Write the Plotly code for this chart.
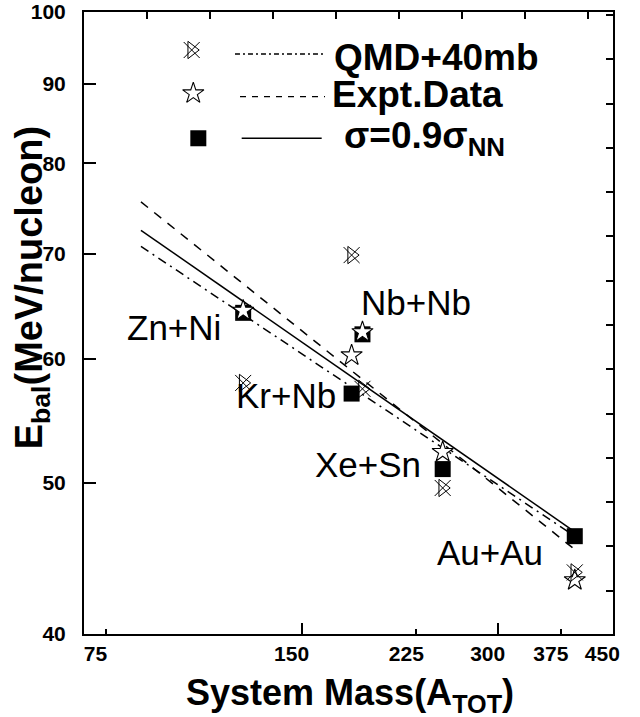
import numpy as np
import plotly.graph_objects as go

# ---------------- data ----------------
systems = ["Zn+Ni", "Kr+Nb", "Nb+Nb", "Xe+Sn", "Au+Au"]
a_tot = [122, 179, 186, 247, 394]
e_sigma09 = [64.2, 57.0, 62.2, 51.0, 46.2]      # sigma = 0.9 sigma_NN (filled squares)
e_expt = [64.4, 60.3, 62.4, 52.3, 43.3]         # experimental data (open stars)
e_qmd = [57.9, 69.9, 57.4, 49.6, 43.8]          # QMD + 40 mb (crossed symbols)

fit_a = [85, 394]
fit_qmd = [70.8, 46.2]
fit_expt = [75.6, 45.3]
fit_sigma09 = [72.5, 46.5]

x_ticks = [75, 150, 225, 300, 375, 450]
x_major = [150, 300, 450]
y_ticks = [40, 50, 60, 70, 80, 90, 100]

FONT = "Liberation Sans, Arial, sans-serif"
BLACK = "#000000"

fig = go.Figure()

# fit lines
fig.add_trace(go.Scatter(x=fit_a, y=fit_qmd, mode="lines",
                         line=dict(color=BLACK, width=1.5, dash="9px,5px,2px,5px")))
fig.add_trace(go.Scatter(x=fit_a, y=fit_expt, mode="lines",
                         line=dict(color=BLACK, width=1.5, dash="9px,8px")))
fig.add_trace(go.Scatter(x=fit_a, y=fit_sigma09, mode="lines",
                         line=dict(color=BLACK, width=1.5)))

# markers
sq = dict(symbol="square", size=16, color=BLACK, line=dict(width=0))
st = dict(symbol="star", size=16, color="white", line=dict(color=BLACK, width=1.1))
cx1 = dict(symbol="x-thin-open", size=16, color=BLACK, line=dict(color=BLACK, width=1))
cx2 = dict(symbol="triangle-right-open", size=15, color=BLACK, line=dict(color=BLACK, width=1))

fig.add_trace(go.Scatter(x=a_tot, y=e_sigma09, mode="markers", marker=sq))
fig.add_trace(go.Scatter(x=a_tot, y=e_expt, mode="markers", marker=st))
fig.add_trace(go.Scatter(x=a_tot, y=e_qmd, mode="markers", marker=cx1))
fig.add_trace(go.Scatter(x=a_tot, y=e_qmd, mode="markers", marker=cx2))

# ---------------- hand-drawn legend (paper-like overlay axes) ----------------
leg_rows = [
    dict(mk=[cx1, cx2], mx=0.2036, my=0.9389, lx=(0.2854, 0.4518), ly=0.9325,
         dash="5px,3px,2px,3px", text="QMD+40mb", tx=0.4682, ty=0.9268),
    dict(mk=[st], mx=0.2066, my=0.8693, lx=(0.2949, 0.4556), ly=0.8638,
         dash="6px,6px", text="Expt.Data", tx=0.4650, ty=0.8666),
    dict(mk=[sq], mx=0.2161, my=0.7970, lx=(0.2981, 0.4493), ly=0.7970,
         dash="solid", text="σ=0.9σ<sub>NN</sub>", tx=0.4871, ty=0.7974),
]
annotations = []
for r in leg_rows:
    for m in r["mk"]:
        fig.add_trace(go.Scatter(x=[r["mx"]], y=[r["my"]], mode="markers", marker=m,
                                 xaxis="x2", yaxis="y2"))
    fig.add_trace(go.Scatter(x=list(r["lx"]), y=[r["ly"], r["ly"]], mode="lines",
                             line=dict(color=BLACK, width=1.3, dash=r["dash"]),
                             xaxis="x2", yaxis="y2"))
    annotations.append(dict(x=r["tx"], y=r["ty"], xref="x2", yref="y2", text="<b>" + r["text"] + "</b>",
                            showarrow=False, xanchor="left", yanchor="middle",
                            font=dict(family=FONT, size=37, color=BLACK)))

# system labels attached to their points (pixel offsets)
label_shift = {"Zn+Ni": (-69, -15), "Kr+Nb": (-66, -2), "Nb+Nb": (54, 32),
               "Xe+Sn": (-75, 5), "Au+Au": (-85, -16)}
for s, a, e in zip(systems, a_tot, e_sigma09):
    dx, dy = label_shift[s]
    annotations.append(dict(x=np.log10(a), y=np.log10(e), xref="x", yref="y", text=s,
                            showarrow=False, xshift=dx, yshift=dy,
                            xanchor="center", yanchor="middle",
                            font=dict(family=FONT, size=35, color=BLACK)))

# axis titles
annotations.append(dict(x=0.502, y=-0.098, xref="paper", yref="paper",
                        text="<b>System Mass(A<sub>TOT</sub>)</b>", showarrow=False,
                        xanchor="center", yanchor="middle",
                        font=dict(family=FONT, size=36, color=BLACK)))
annotations.append(dict(x=-0.098, y=0.556, xref="paper", yref="paper",
                        text="<b>E<sub>bal</sub>(MeV/nucleon)</b>", showarrow=False, textangle=-90,
                        xanchor="center", yanchor="middle",
                        font=dict(family=FONT, size=38, color=BLACK)))

tickfont = dict(family=FONT, size=21, color=BLACK, weight="bold")

fig.update_layout(
    width=640, height=717,
    margin=dict(l=84, r=27, t=12, b=83, autoexpand=False),
    paper_bgcolor="white", plot_bgcolor="white",
    showlegend=False,
    annotations=annotations,
    xaxis=dict(type="log", range=[np.log10(69.5), np.log10(451)],
               tickvals=x_ticks, ticktext=["<b>%d</b>" % v for v in x_ticks],
               ticks="inside", ticklen=5, tickwidth=1.5, tickcolor=BLACK,
               minor=dict(tickvals=x_major, ticks="inside", ticklen=11, tickwidth=1.5,
                          tickcolor=BLACK, showgrid=False),
               tickfont=tickfont, ticklabelshift=-10, ticklabelstandoff=0,
               showline=True, linewidth=2, linecolor=BLACK, mirror=True,
               showgrid=False, zeroline=False, automargin=False),
    yaxis=dict(type="log", range=[np.log10(40), np.log10(100)],
               tickvals=y_ticks, ticktext=["<b>%d</b>" % v for v in y_ticks],
               ticks="inside", ticklen=12, tickwidth=1.5, tickcolor=BLACK,
               tickfont=tickfont, ticklabelstandoff=12,
               showline=True, linewidth=2, linecolor=BLACK, mirror=True,
               showgrid=False, zeroline=False, automargin=False),
    xaxis2=dict(overlaying="x", side="top", anchor="y", range=[0, 1],
                tick0=0.119, dtick=0.119, ticks="inside", ticklen=7, tickwidth=1.5,
                tickcolor=BLACK, showticklabels=False, showgrid=False,
                zeroline=False, showline=False, automargin=False),
    yaxis2=dict(overlaying="y", side="right", anchor="x", range=[0, 1],
                tick0=0.0696, dtick=0.0712, ticks="inside", ticklen=7, tickwidth=1.5,
                tickcolor=BLACK, showticklabels=False, showgrid=False,
                zeroline=False, showline=False, automargin=False),
)

fig.write_html("out.html")
